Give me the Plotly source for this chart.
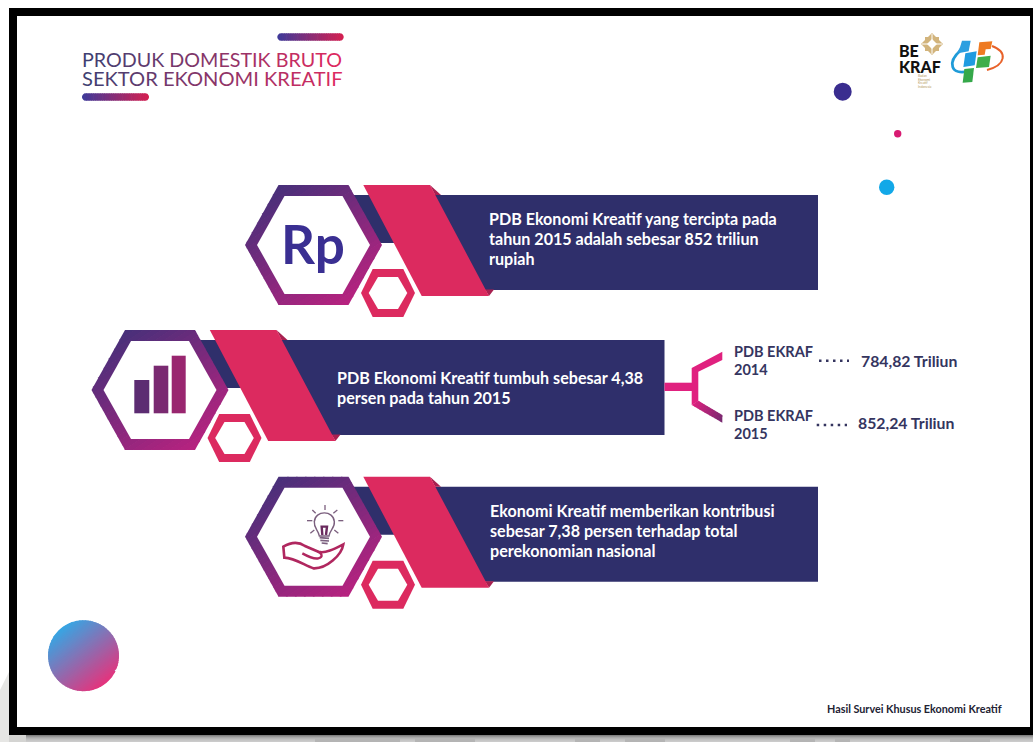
import plotly.graph_objects as go

# ---- content ----
title_lines = ["PRODUK DOMESTIK BRUTO", "SEKTOR EKONOMI KREATIF"]
row_text = [
    ["PDB Ekonomi Kreatif yang tercipta pada", "tahun 2015 adalah sebesar 852 triliun", "rupiah"],
    ["PDB Ekonomi Kreatif tumbuh sebesar 4,38", "persen pada tahun 2015"],
    ["Ekonomi Kreatif memberikan kontribusi", "sebesar 7,38 persen terhadap total", "perekonomian nasional"],
]
pdb_years = ["2014", "2015"]
pdb_values = [784.82, 852.24]
source_note = "Hasil Survei Khusus Ekonomi Kreatif"

W, H = 1033, 742
NAVY = "#2f2f6b"
CRIMSON = "#dc2a5f"
FOLD = "#a82050"
PINK = "#e0217f"
HEX_A, HEX_B = "#47307a", "#b8227f"
TEXT_DARK = "#35355f"

shapes, notes = [], []


def hexcol(c):
    return tuple(int(c[i:i + 2], 16) for i in (1, 3, 5))


def mix(a, b, t):
    pa, pb = hexcol(a), hexcol(b)
    return "#%02x%02x%02x" % tuple(round(pa[i] + (pb[i] - pa[i]) * t) for i in range(3))


def path_of(pts):
    return "M " + " L ".join(f"{x:.2f} {y:.2f}" for x, y in pts) + " Z"


def poly(pts, color):
    shapes.append(dict(type="path", path=path_of(pts), fillcolor=color,
                       line=dict(width=0), layer="above"))


def rect(x0, y0, x1, y1, color):
    poly([(x0, y0), (x1, y0), (x1, y1), (x0, y1)], color)


def stroke(path, color, width):
    shapes.append(dict(type="path", path=path, line=dict(color=color, width=width),
                       fillcolor="rgba(0,0,0,0)", layer="above"))


def disc(cx, cy, r, color):
    shapes.append(dict(type="circle", x0=cx - r, x1=cx + r, y0=cy - r, y1=cy + r,
                       fillcolor=color, line=dict(width=0), layer="above"))


def clip(pts, d, limit, keep_below):
    """Clip a convex polygon against the half plane d.p <= limit (or >=)."""
    out = []
    sign = 1 if keep_below else -1
    for i, p in enumerate(pts):
        q = pts[(i + 1) % len(pts)]
        vp = sign * (d[0] * p[0] + d[1] * p[1] - limit)
        vq = sign * (d[0] * q[0] + d[1] * q[1] - limit)
        if vp <= 0:
            out.append(p)
        if vp * vq < 0:
            t = vp / (vp - vq)
            out.append((p[0] + (q[0] - p[0]) * t, p[1] + (q[1] - p[1]) * t))
    return out


def gradient(pts, c0, c1, d, n=28):
    """Fill a convex polygon with overlapping colour bands along direction d."""
    vals = [d[0] * x + d[1] * y for x, y in pts]
    lo, hi = min(vals), max(vals)
    step = (hi - lo) / n
    for i in range(n):
        a = lo + i * step
        piece = clip(pts, d, a, False) if i else pts
        if i < n - 1:
            piece = clip(piece, d, a + step + 0.7, True)
        if len(piece) > 2:
            poly(piece, mix(c0, c1, (i + 0.5) / n))


def hexagon(cx, cy, hw, hh, thw):
    return [(cx - hw, cy), (cx - thw, cy - hh), (cx + thw, cy - hh),
            (cx + hw, cy), (cx + thw, cy + hh), (cx - thw, cy + hh)]


def capsule(x0, x1, y0, y1):
    import math
    r = (y1 - y0) / 2
    pts = []
    for k in range(13):
        a = math.pi / 2 + math.pi * k / 12
        pts.append((x0 + r + r * math.cos(a), (y0 + y1) / 2 - r * math.sin(a)))
    for k in range(13):
        a = -math.pi / 2 + math.pi * k / 12
        pts.append((x1 - r + r * math.cos(a), (y0 + y1) / 2 - r * math.sin(a)))
    return pts


def circle_pts(cx, cy, r, n=72):
    import math
    return [(cx + r * math.cos(2 * math.pi * k / n), cy + r * math.sin(2 * math.pi * k / n))
            for k in range(n)]


def label(x, y, text, size, color, family="Lato", weight=700, anchor="left"):
    notes.append(dict(x=x, y=y, xref="x", yref="y", text=text, showarrow=False,
                      xanchor=anchor, yanchor="middle", align=anchor,
                      font=dict(family=family, size=size, color=color, weight=weight)))


def spaced_gradient(text, c0, c1):
    n = max(len(text) - 1, 1)
    return "".join(f'<span style="color:{mix(c0, c1, i / n)}">{ch}</span>' if ch != " " else " "
                   for i, ch in enumerate(text))


def banner(dx, dy):
    """Navy ribbon with its crimson fold and both hexagons, offset from the first row."""
    def off(pts):
        return [(x + dx, y + dy) for x, y in pts]

    poly(off([(340, 195), (410, 195), (410, 243), (340, 243)]), NAVY)
    poly(off([(430, 195), (818, 195), (818, 290), (480, 290)]), NAVY)
    poly(off([(430, 185), (441, 195), (435, 195)]), FOLD)
    poly(off([(485, 289.5), (494, 289.5), (489, 296)]), FOLD)
    poly(off([(363.3, 185), (430, 185), (489, 296), (421.7, 296)]), CRIMSON)
    gradient(hexagon(313.5 + dx, 245 + dy, 68.5, 60, 35), HEX_A, HEX_B, (0.55, 0.83))
    poly(hexagon(313.5 + dx, 245 + dy, 56.5, 49, 29), "white")
    poly(hexagon(388 + dx, 293 + dy, 27, 24, 15.3), CRIMSON)
    poly(hexagon(388 + dx, 293 + dy, 19.3, 16, 10), "white")


# ---- surrounding sheet and frame ----
poly([(0, 690), (9, 672), (9, 744), (0, 744)], "#e6e6e4")
rect(9, 735, W, 744, "#b8b8b8")
bands = ["#808080", "#969696", "#a8a8a8", "#b5b5b5", "#bfbfbf", "#c6c6c6", "#cbcbcb"]
for i, c in enumerate(bands):
    rect(9, 735 + i, W, 744, c)
rect(9, 735, 26, 744, "#d4d4d2")
for x0, x1 in [(315, 400), (415, 475), (575, 600), (625, 665), (790, 815), (835, 850), (950, 990)]:
    rect(x0, 738, x1, 744, "#b4b4b4")
rect(9, 8, W, 735, "#000000")
rect(17, 16, 1030, 727, "#ffffff")

# ---- heading ----
gradient(capsule(277.3, 343.7, 33.3, 40.7), "#3d3a9a", "#d62050", (1, 0), n=30)
gradient(capsule(82, 149, 93.3, 100.7), "#3d3a9a", "#d62050", (1, 0), n=30)
label(79.5, 59, spaced_gradient(title_lines[0], "#3f3f72", "#dc2a5f"), 19.7, "#3f3f72", weight=400)
label(79.5, 78, spaced_gradient(title_lines[1], "#3f3f72", "#dc2a5f"), 20.1, "#3f3f72", weight=400)

# ---- logos ----
label(896.5, 50, "BE", 16, "#111111", family="Lato", weight=900)
label(896.5, 66, "KRAF", 16, "#111111", family="Lato", weight=900)
for i, word in enumerate(["Badan", "Ekonomi", "Kreatif", "Indonesia"]):
    label(915.5, 76 + i * 3.6, word, 3.2, "#b59a60", weight=400)
star_x, star_y = 932, 44
poly([(star_x, star_y - 11), (star_x + 11, star_y), (star_x, star_y + 11), (star_x - 11, star_y)], "#d2b47c")
poly([(star_x - 7, star_y - 7), (star_x + 7, star_y - 7), (star_x + 7, star_y + 7), (star_x - 7, star_y + 7)], "#d2b47c")
poly([(star_x, star_y - 5), (star_x + 5, star_y), (star_x, star_y + 5), (star_x - 5, star_y)], "white")
stroke(f"M {star_x-10} {star_y} L {star_x-3} {star_y} M {star_x+3} {star_y} L {star_x+10} {star_y}", "white", 1)
stroke(f"M {star_x} {star_y-10} L {star_x} {star_y-3} M {star_x} {star_y+3} L {star_x} {star_y+10}", "white", 1)

def logo(pts):
    return [(890 + x / 3, 28 + y / 3) for x, y in pts]

stroke("M 969.5 71 C 950 76 947 62 961 50", "#1f9bd8", 2.8)
stroke("M 992 46 C 1008 52 1006 65 987 70", "#e8622a", 2)
poly(logo([(216, 38), (242, 38), (236, 70), (212, 74), (201, 74), (210, 58)]), "#2b9fe0")
poly(logo([(226, 76), (260, 70), (254, 112), (220, 117)]), "#1f9be0")
poly(logo([(268, 43), (307, 40), (302, 63), (287, 64), (284, 80), (263, 82)]), "#ee7a22")
poly(logo([(263, 88), (302, 83), (297, 117), (258, 120)]), "#3fae4a")
poly(logo([(223, 123), (252, 120), (247, 162), (218, 164)]), "#35a84a")

# ---- decorative dots ----
disc(842.7, 91.7, 9, "#3a2d8f")
disc(897.7, 133.7, 3.7, "#d81b72")
disc(886.7, 187.3, 7.7, "#12a8e8")
disc(83.5, 655.7, 35, "#9a7ab0")
gradient(circle_pts(83.5, 655.7, 35.5), "#36a6e4", "#e6337c", (0.62, 0.78), n=40)

# ---- three message rows ----
banner(0, 0)
banner(-153.5, 145)
banner(0, 291.7)

label(313, 243, "Rp", 53, "#3a2f92", family="Lato", weight=700, anchor="center")

# bar icon
rect(134.3, 380, 149.3, 413.3, "#5c2c72")
rect(153.7, 365.7, 168.3, 413.3, "#7a2a71")
rect(171.7, 355.7, 185.7, 413.3, "#99266f")

# light bulb resting above an open hand
def icon(x, y):
    return f"{275 + x / 3:.2f} {500 + y / 3:.2f}"

BULB = "#7b5f7e"
for a, b in [((150, 15), (150, 30)), ((175, 40), (187, 30)), ((190, 62), (205, 62)),
             ((178, 90), (190, 100)), ((122, 40), (112, 30)), ((112, 62), (96, 62)),
             ((118, 90), (106, 100))]:
    stroke(f"M {icon(*a)} L {icon(*b)}", BULB, 1.3)
stroke(f"M {icon(133, 108)} C {icon(130, 90)} {icon(116, 85)} {icon(118, 65)} "
       f"C {icon(120, 30)} {icon(176, 30)} {icon(178, 65)} C {icon(180, 85)} {icon(164, 90)} {icon(162, 108)} Z",
       BULB, 1.4)
stroke(f"M {icon(142, 105)} L {icon(140, 80)} L {icon(156, 80)} L {icon(153, 105)}", "#6a2a5e", 2.4)
for y, (a, b) in zip((113, 121, 129), ((134, 162), (136, 162), (140, 158))):
    stroke(f"M {icon(a, y)} L {icon(b, y + 2)}", BULB, 1.6)

HAND = "#b0275f"
stroke(f"M {icon(25, 140)} C {icon(45, 128)} {icon(70, 124)} {icon(90, 138)} L {icon(130, 155)} "
       f"C {icon(150, 162)} {icon(180, 146)} {icon(205, 133)} "
       f"C {icon(200, 165)} {icon(155, 207)} {icon(115, 205)} "
       f"C {icon(90, 197)} {icon(60, 174)} {icon(28, 173)} Z",
       HAND, 2.6)
stroke(f"M {icon(82, 160)} C {icon(100, 170)} {icon(115, 178)} {icon(130, 175)} "
       f"C {icon(146, 172)} {icon(140, 158)} {icon(128, 155)}", HAND, 2.4)

# ---- row captions ----
row_layout = [(487, 218.5), (335, 377.5), (488, 510.5)]
for (x, y), lines in zip(row_layout, row_text):
    for i, line in enumerate(lines):
        label(x, y + i * 20, line, 16.1, "#ffffff")

# ---- branch from the growth row to the yearly values ----
rect(664.5, 382.7, 695, 391, PINK)
poly([(691.7, 368), (722.3, 351.7), (722.3, 360), (698.3, 371.7), (698.3, 401), (691.7, 405)], PINK)
gradient([(691.7, 405), (698.3, 400.7), (722.3, 415), (722.3, 422.7)], PINK, "#74296f", (1, 0.4), n=12)

dot_rows = [(819, 849, 360.7), (816.7, 847, 425)]
name_y = [(351, 369.5), (415, 433.5)]
value_x = [859, 856]
value_y = [360.5, 422.5]
for year, value, (x0, x1, y), (y0, y1), vx, vy in zip(pdb_years, pdb_values, dot_rows, name_y, value_x, value_y):
    label(732, y0, "PDB EKRAF", 14.5, TEXT_DARK)
    label(732, y1, year, 14.5, TEXT_DARK)
    stroke(f"M {x0} {y} L {x1} {y}", TEXT_DARK, 2.4)
    shapes[-1]["line"]["dash"] = "2.5px,4.5px"
    label(vx, vy, f"{value:.2f}".replace(".", ",") + " Triliun", 15.8, TEXT_DARK)

label(825, 708, source_note, 10.8, "#222233", weight=700)

fig = go.Figure()
fig.update_layout(
    width=W, height=H, margin=dict(l=0, r=0, t=0, b=0),
    paper_bgcolor="white", plot_bgcolor="white", showlegend=False,
    xaxis=dict(range=[0, W], visible=False, fixedrange=True),
    yaxis=dict(range=[H, 0], visible=False, fixedrange=True),
    shapes=shapes, annotations=notes,
)
fig.write_html("out.html", config=dict(displayModeBar=False))
